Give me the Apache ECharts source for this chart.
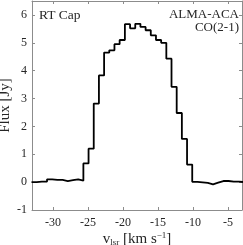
<!DOCTYPE html>
<html><head><meta charset="utf-8">
<script src="https://cdn.jsdelivr.net/npm/echarts@6/dist/echarts.min.js"></script>
<style>html,body{margin:0;padding:0;background:#fff}#c{width:243px;height:245px}</style>
</head><body><div id="c"></div>
<script>
// channel left edges (km/s), last entry is the right edge of the last channel
const velocityEdges = [-33.07,-32.33,-31.59,-30.85,-30.11,-29.37,-28.62,-27.88,-27.14,-26.40,
  -25.66,-24.92,-24.18,-23.44,-22.70,-21.96,-21.22,-20.48,-19.73,-18.99,
  -18.25,-17.51,-16.77,-16.03,-15.29,-14.55,-13.81,-13.07,-12.33,-11.59,
  -10.85,-10.11,-9.36,-8.62,-7.88,-7.14,-6.40,-5.66,-4.92,-4.18,-3.44,-2.70];
// flux per channel (Jy)
const fluxValues = [0.00,0.02,0.02,0.10,0.08,0.08,0.04,0.07,0.10,0.05,
  0.67,1.20,2.82,3.83,4.65,4.73,4.95,5.10,5.67,5.52,
  5.68,5.57,5.45,5.27,5.10,5.00,4.43,3.42,2.48,1.55,
  0.63,0.01,-0.01,-0.03,-0.08,-0.02,0.04,0.04,0.02,0.02,0.00];
const xTicks = [-30,-25,-20,-15,-10,-5];
const yTicks = [-1,0,1,2,3,4,5,6];
const xRange = [-33,-3];
const yRange = [-1,6.5];

const data = velocityEdges.map((v,i)=>[v, fluxValues[Math.min(i, fluxValues.length-1)]]);
const font = '"Liberation Serif", "DejaVu Serif", serif';
const axisGray = '#8c8c8c';
const txt = '#262626';

function xAx(pos, labels){
  return {type:'value', position:pos, min:xRange[0], max:xRange[1],
    axisLine:{show:true, onZero:false, lineStyle:{color:axisGray, width:1}},
    axisTick:{show:true, inside:true, length:3, customValues:xTicks, lineStyle:{color:axisGray}},
    axisLabel:{show:labels, customValues:xTicks, color:txt, fontFamily:font, fontSize:12, margin:7},
    splitLine:{show:false},
    name: labels ? '{v|v}{s|lsr}{v| [km s}{p|−1}{v|]}' : '',
    nameLocation:'middle', nameGap:21, nameMoveOverlap:false,
    nameTextStyle:{verticalAlign:'top', rich:{
      v:{fontFamily:font, fontSize:15, color:txt},
      s:{fontFamily:font, fontSize:9, color:txt, verticalAlign:'bottom', padding:[7,0,0,0]},
      p:{fontFamily:font, fontSize:9, color:txt, verticalAlign:'top', padding:[0,0,7,0]}
    }}
  };
}
function yAx(pos, labels){
  return {type:'value', position:pos, min:yRange[0], max:yRange[1],
    axisLine:{show:true, onZero:false, lineStyle:{color:axisGray, width:1}},
    axisTick:{show:true, inside:true, length:3, customValues:yTicks, lineStyle:{color:axisGray}},
    axisLabel:{show:labels, customValues:yTicks, color:txt, fontFamily:font, fontSize:12, margin:5},
    splitLine:{show:false},
    name: labels ? 'Flux [Jy]' : '', nameLocation:'middle', nameGap:19, nameRotate:90,
    nameMoveOverlap:false,
    nameTextStyle:{fontFamily:font, fontSize:15, color:txt}
  };
}
const chart = echarts.init(document.getElementById('c'));
chart.setOption({
  animation:false,
  backgroundColor:'#fff',
  grid:{left:32, right:1, top:1, bottom:35, containLabel:false, outerBoundsMode:'none'},
  xAxis:[xAx('bottom', true), xAx('top', false)],
  yAxis:[yAx('left', true), yAx('right', false)],
  series:[{type:'line', step:'end', data:data, xAxisIndex:0, yAxisIndex:0,
    showSymbol:false, symbol:'none', clip:true,
    lineStyle:{color:'#000', width:1.8}}],
  graphic:[
    {type:'text', left:39, top:8, style:{text:'RT Cap', font:'13.5px '+font, fill:txt}},
    {type:'text', right:4, top:8, style:{text:'ALMA-ACA', font:'13px '+font, fill:txt, align:'right'}},
    {type:'text', right:4, top:21, style:{text:'CO(2-1)', font:'13px '+font, fill:txt, align:'right'}}
  ]
});
</script></body></html>
